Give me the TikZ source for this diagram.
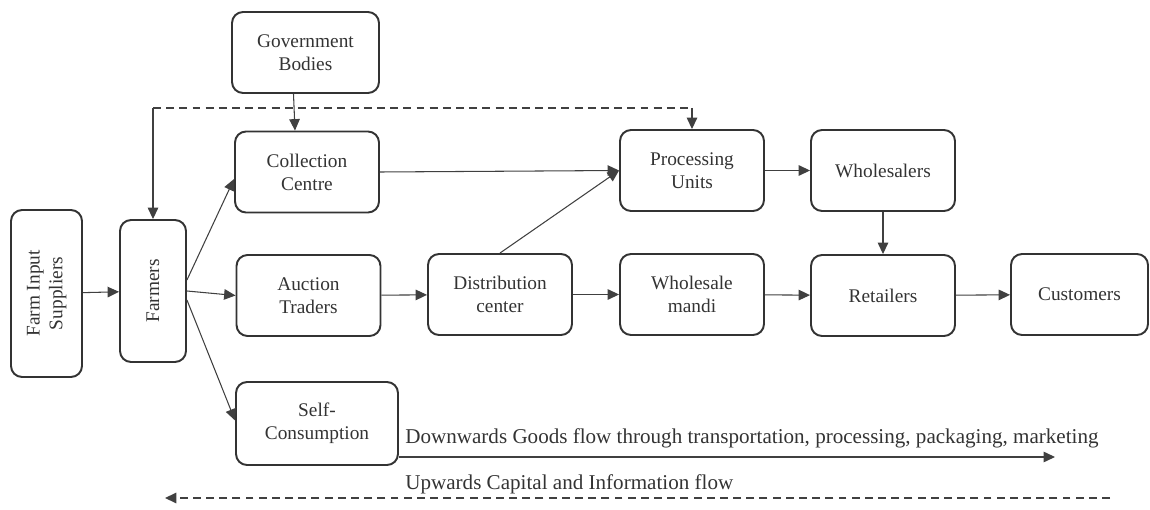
\documentclass[tikz,border=0pt]{standalone}
\usepackage{fontspec}
\setmainfont{LiberationSerif}[Extension=.ttf, UprightFont=*-Regular, BoldFont=*-Bold]
\usepackage{graphicx}
\usetikzlibrary{arrows.meta}

\tikzstyle{block} = [rectangle, draw=black!80, line width=1.1pt, rounded corners=0.22cm, align=center, minimum width=2.88cm, minimum height=1.62cm, text=black!80, font=\fontsize{11}{13}\selectfont]
\tikzstyle{flow} = [-{Triangle[length=6.5pt,width=6pt]}, draw=black!75, line width=0.6pt]
\tikzstyle{note} = [anchor=base west, inner sep=0pt, text=black!80, font=\fontsize{12}{14}\selectfont]

\begin{document}
\begin{tikzpicture}[x=0.02cm, y=-0.02cm]
        \useasboundingbox (0,0) rectangle (1150,510);
        % Supply side
        \node (suppliers) at (46.5,293.5) [block, minimum width=1.42cm, minimum height=3.34cm] {\rotatebox{90}{\begin{tabular}{c}Farm Input\\Suppliers\end{tabular}}};
        \node (farmers) at (153,291) [block, minimum width=1.32cm, minimum height=2.84cm] {\rotatebox{90}{Farmers}};
        \node (gov) at (305.5,52.5) [block, minimum width=2.94cm] {Government\\Bodies};
        \node (collection) at (307,172) [block] {Collection\\Centre};
        \node (auction) at (308.5,295.5) [block] {Auction\\Traders};
        \node (self) at (317,423.5) [block, minimum width=3.24cm, minimum height=1.66cm] {Self-\\Consumption};
        % Market side
        \node (distribution) at (500,294.5) [block] {Distribution\\center};
        \node (processing) at (692,170.5) [block] {Processing\\Units};
        \node (mandi) at (692,294.5) [block] {Wholesale\\mandi};
        \node (wholesalers) at (883,170.5) [block] {Wholesalers};
        \node (retailers) at (883,295.5) [block] {Retailers};
        \node (customers) at (1079.5,294.5) [block, minimum width=2.74cm] {Customers};

        % Goods flow between the blocks
        \draw[flow] (suppliers) -- (farmers);
        \draw[flow] ([yshift=0.22cm]farmers.east) -- ([yshift=-0.14cm]collection.west);
        \draw[flow] (farmers.east) -- (auction.west);
        \draw[flow] ([yshift=-0.18cm]farmers.east) -- ([yshift=0.06cm]self.west);
        \draw[flow] ([xshift=-0.24cm]gov.south) -- ([xshift=-0.24cm]collection.north);
        \draw[flow] (collection.east) -- (processing.west);
        \draw[flow] (auction) -- (distribution);
        \draw[flow] (distribution.north) -- (processing.west);
        \draw[flow] (distribution) -- (mandi);
        \draw[flow] (processing) -- (wholesalers);
        \draw[flow] (mandi) -- (retailers);
        \draw[flow] (wholesalers) -- (retailers);
        \draw[flow] (retailers) -- (customers);

        % Information link back to farmers and processing units
        \coordinate (topline) at (0,108);
        \coordinate (lbend) at (farmers.north |- topline);
        \coordinate (rbend) at (processing.north |- topline);
        \draw[draw=black!75, line width=0.8pt, dash pattern=on 4.5pt off 3pt] (lbend) -- (rbend);
        \draw[flow] (lbend) -- (farmers.north);
        \draw[flow] (rbend) -- (processing.north);

        % Direction of flows
        \coordinate (gs) at (399,457);
        \coordinate (ge) at (1055,457);
        \draw[flow] (gs) -- (ge);
        \node (goodstxt) [note] at (405,443) {Downwards Goods flow through transportation, processing, packaging, marketing};
        \coordinate (us) at (1110,498);
        \coordinate (ue) at (165,498);
        \draw[flow, line width=0.8pt, dash pattern=on 4.5pt off 3pt] (us) -- (ue);
        \node (capitaltxt) [note] at (405,489) {Upwards Capital and Information flow};
    \end{tikzpicture}
\end{document}
